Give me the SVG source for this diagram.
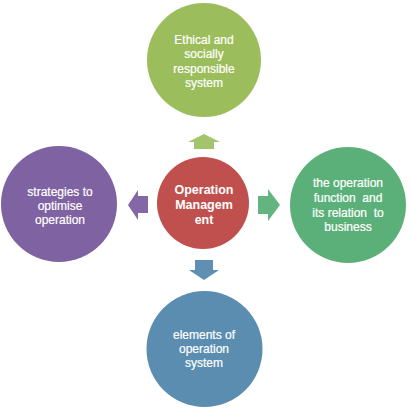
<svg xmlns="http://www.w3.org/2000/svg" width="411" height="410" viewBox="0 0 411 410">
<style>
text{font-family:"Liberation Sans","Open Sans",Arial,sans-serif;font-size:12px;fill:#fff;stroke:#fff;stroke-width:0.2;text-anchor:middle;white-space:pre}
.b{font-weight:bold;font-size:12.5px;stroke-width:0}
</style>
<rect width="411" height="410" fill="#fff"/>
<g id="connectors">
<polygon points="204,134 220,142 214,142 214,149 194,149 194,142 188,142" fill="#A3C46C"/>
<polygon points="195,260 213,260 213,270 219,270 204,280 189,270 195,270" fill="#5F8FB3"/>
<polygon points="128,205 138,190 138,196 148,196 148,213 138,213 138,220" fill="#8367A6"/>
<polygon points="258,196 268,196 268,189 280,205 268,221 268,214 258,214" fill="#63B47E"/>
</g>
<g id="top">
<circle cx="204" cy="60" r="57" fill="#9BBD5B"/>
<text x="204" y="44">Ethical and</text>
<text x="204" y="58">socially</text>
<text x="204" y="72.5">responsible</text>
<text x="204" y="87">system</text>
</g>
<g id="center">
<circle cx="203" cy="203" r="46" fill="#C0504D"/>
<text class="b" x="204" y="194">Operation</text>
<text class="b" x="204" y="208.5">Managem</text>
<text class="b" x="204" y="223.5">ent</text>
</g>
<g id="right">
<circle cx="348" cy="205" r="58" fill="#5BB079"/>
<text x="348" y="187">the operation</text>
<text x="348" y="202">function  and</text>
<text x="348" y="216.5">its relation  to</text>
<text x="348" y="231">business</text>
</g>
<g id="bottom">
<circle cx="204.5" cy="349" r="58" fill="#5B8DB1"/>
<text x="204" y="339">elements of</text>
<text x="204" y="353">operation</text>
<text x="204" y="367">system</text>
</g>
<g id="left">
<circle cx="59" cy="204" r="58" fill="#7F62A1"/>
<text x="60" y="196">strategies to</text>
<text x="60" y="210">optimise</text>
<text x="60" y="223.5">operation</text>
</g>
</svg>
